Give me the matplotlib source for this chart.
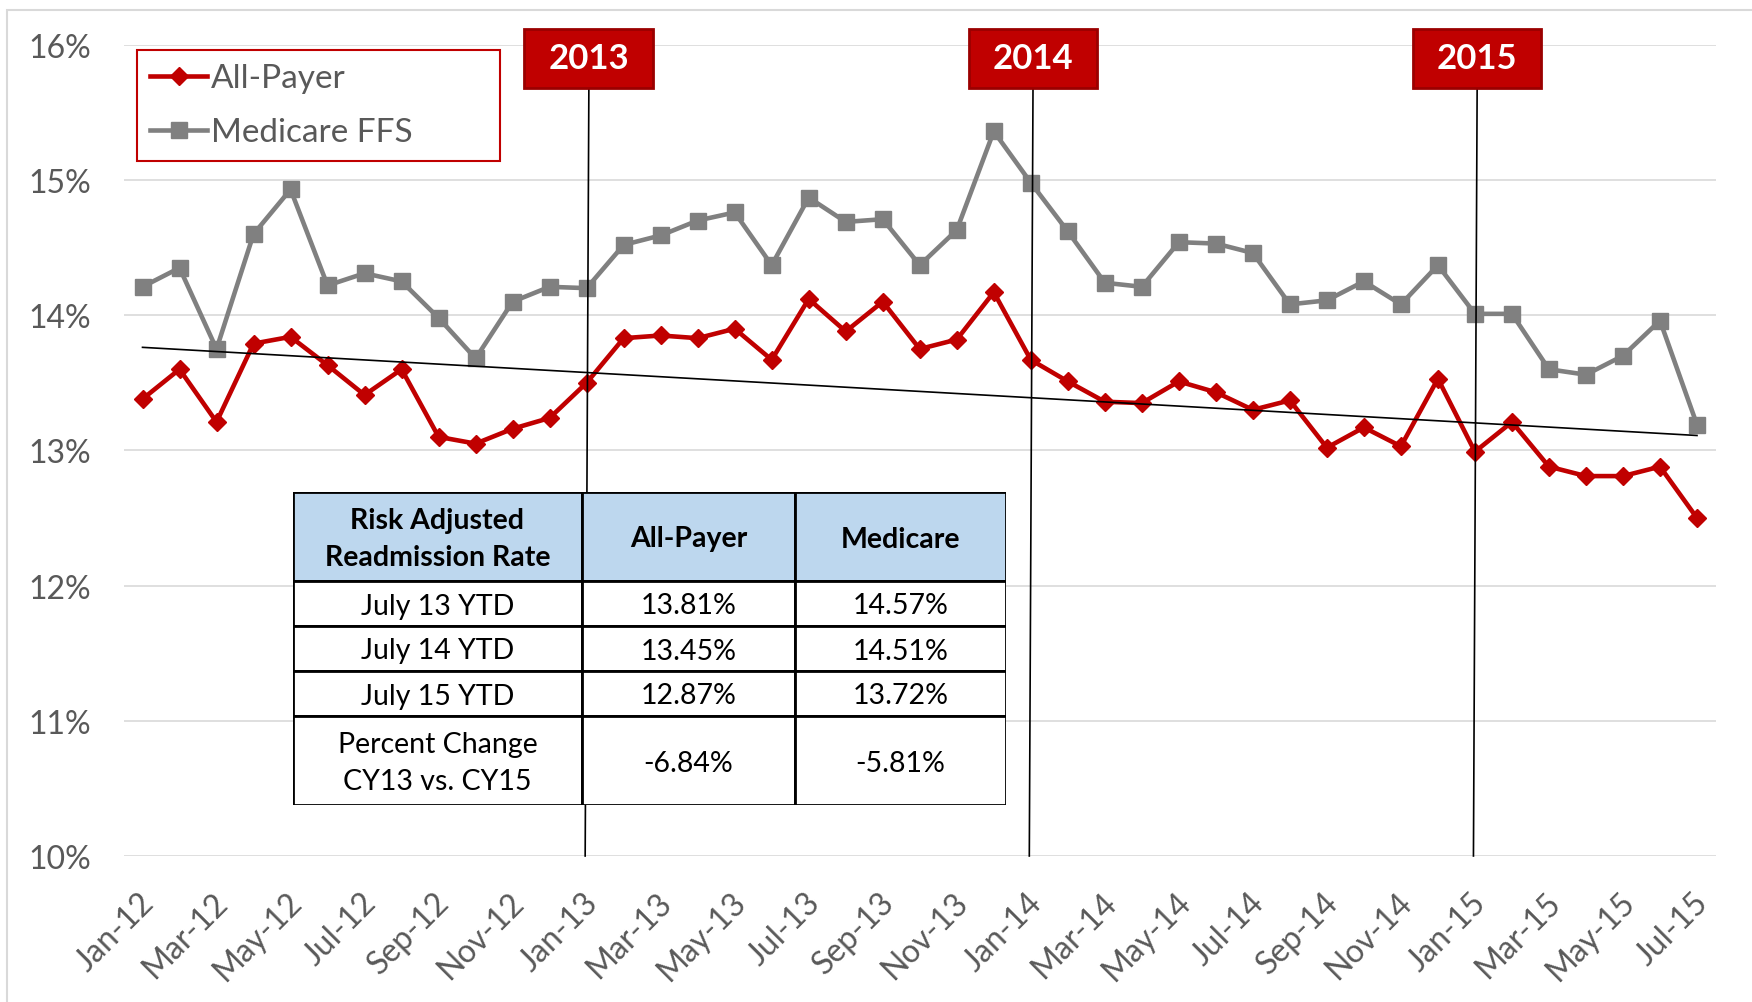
import numpy as np
import pandas as pd
import matplotlib
matplotlib.use("Agg")
import matplotlib.pyplot as plt
from matplotlib.patches import Rectangle
from matplotlib.lines import Line2D
from matplotlib.transforms import ScaledTranslation

plt.rcParams['font.family'] = ['Lato', 'DejaVu Sans']

# monthly risk adjusted readmission rate, Jan-12 .. Jul-15 (%)
months = pd.date_range('2012-01-01', periods=43, freq='MS').strftime('%b-%y').tolist()
all_payer = [13.38, 13.60, 13.21, 13.79, 13.84, 13.63, 13.41, 13.60, 13.10, 13.05, 13.16, 13.24,
             13.50, 13.83, 13.85, 13.83, 13.90, 13.67, 14.12, 13.88, 14.10, 13.75, 13.82, 14.17,
             13.67, 13.51, 13.36, 13.35, 13.51, 13.43, 13.30, 13.37, 13.02, 13.17, 13.03, 13.53,
             12.99, 13.21, 12.88, 12.81, 12.81, 12.88, 12.50]
medicare = [14.21, 14.35, 13.75, 14.60, 14.93, 14.22, 14.31, 14.25, 13.98, 13.68, 14.10, 14.21,
            14.20, 14.52, 14.59, 14.70, 14.76, 14.37, 14.87, 14.69, 14.71, 14.37, 14.63, 15.36,
            14.98, 14.62, 14.24, 14.21, 14.54, 14.53, 14.46, 14.08, 14.11, 14.25, 14.08, 14.37,
            14.01, 14.01, 13.60, 13.56, 13.70, 13.96, 13.19]
series_names = ['All-Payer', 'Medicare FFS']

year_labels = ['2013', '2014', '2015']
year_months = ['Jan-13', 'Jan-14', 'Jan-15']

y_ticks = [10, 11, 12, 13, 14, 15, 16]

tbl_header = ['Risk Adjusted\nReadmission Rate', 'All-Payer', 'Medicare']
tbl_rows = ['July 13 YTD', 'July 14 YTD', 'July 15 YTD', 'Percent Change\nCY13 vs. CY15']
tbl_allpayer = ['13.81%', '13.45%', '12.87%', '-6.84%']
tbl_medicare = ['14.57%', '14.51%', '13.72%', '-5.81%']

RED = '#C00000'
GRAY = '#808080'
TXT = '#595959'
W, H = 1752, 1003

fig = plt.figure(figsize=(W / 100, H / 100), dpi=100)
ax = fig.add_axes([124 / W, 1 - 857 / H, 1591.5 / W, 811.2 / H])

x = np.arange(len(months))
ax.plot(x, all_payer, color=RED, lw=3.3, marker='D', ms=9.5, zorder=4)
ax.plot(x, medicare, color=GRAY, lw=3.3, marker='s', ms=12, zorder=3)

# linear trend of all-payer
k, b = np.polyfit(x, all_payer, 1)
ax.plot([x[0], x[-1]], [k * x[0] + b, k * x[-1] + b], color='black', lw=1.2, zorder=5)

ax.set_xlim(-0.5, len(months) - 0.5)
ax.set_ylim(10, 16)
ax.set_yticks(y_ticks)
ax.set_yticklabels(['%d%%' % v for v in y_ticks])
ax.set_xticks(x[::2])
ax.set_xticklabels(months[::2], rotation=45, ha='right', va='top', rotation_mode='anchor')
ax.tick_params(axis='y', length=0, pad=24, labelsize=23, labelcolor=TXT)
ax.tick_params(axis='x', length=0, pad=22, labelsize=23, labelcolor=TXT)
shift = ScaledTranslation(-4 / 100, 0, fig.dpi_scale_trans)
for lab in ax.get_xticklabels():
    lab.set_transform(lab.get_transform() + shift)
ax.grid(axis='y', color='#D9D9D9', lw=1.2)
ax.set_axisbelow(True)
for s in ax.spines.values():
    s.set_visible(False)

# year markers
for lab, m in zip(year_labels, year_months):
    i = months.index(m)
    ax.plot([i + 0.06, i - 0.04], [15.68, 10.0], color='black', lw=1.2, zorder=6, clip_on=False)
    ax.add_patch(Rectangle((i + 0.05 - 1.73, 15.68), 3.46, 0.44, facecolor=RED, edgecolor='#9A0000',
                           lw=2, zorder=7, clip_on=False))
    ax.text(i + 0.05, 15.90, lab, color='white', fontsize=25, fontweight='bold',
            ha='center', va='center', zorder=8)

# legend
handles = [Line2D([], [], color=RED, lw=3.3, marker='D', ms=9.5),
           Line2D([], [], color=GRAY, lw=3.3, marker='s', ms=12)]
top = 1 - 51 / H
leg = fig.legend(handles, series_names, loc='upper left', bbox_to_anchor=(137 / W, top - 0.1, 363 / W, 0.1),
                 mode='expand', fontsize=24, frameon=True, fancybox=False, framealpha=1,
                 edgecolor=RED, borderpad=0.4, labelspacing=0.72, handlelength=1.7,
                 handletextpad=0.12, borderaxespad=0, numpoints=1)
leg.get_frame().set_linewidth(1.5)
for t in leg.get_texts():
    t.set_color(TXT)

# summary table
tab = fig.add_axes([293 / W, 1 - 806 / H, 713 / W, 313 / H])
tab.set_xlim(0, 713)
tab.set_ylim(313, 0)
tab.axis('off')
col_edges = [0, 289, 502, 713]
row_edges = [0, 89, 134, 179, 224, 313]
cells = [tbl_header] + [[r, a, m] for r, a, m in zip(tbl_rows, tbl_allpayer, tbl_medicare)]
for r, row in enumerate(cells):
    for c, txt in enumerate(row):
        x0, x1 = col_edges[c], col_edges[c + 1]
        y0, y1 = row_edges[r], row_edges[r + 1]
        tab.add_patch(Rectangle((x0, y0), x1 - x0, y1 - y0, facecolor='#BDD7EE' if r == 0 else 'white',
                                edgecolor='black', lw=2))
        tab.text((x0 + x1) / 2, (y0 + y1) / 2 + 2, txt, ha='center', va='center', fontsize=20.5,
                 fontweight='bold' if r == 0 else 'normal', color='black', linespacing=1.5)

# outer chart border
fig.patches.append(Rectangle((7 / W, -0.05), 1.2, 1.05 - 11 / H, transform=fig.transFigure,
                             fill=False, edgecolor='#D9D9D9', lw=1.5))

fig.savefig('out.png', dpi=100)
